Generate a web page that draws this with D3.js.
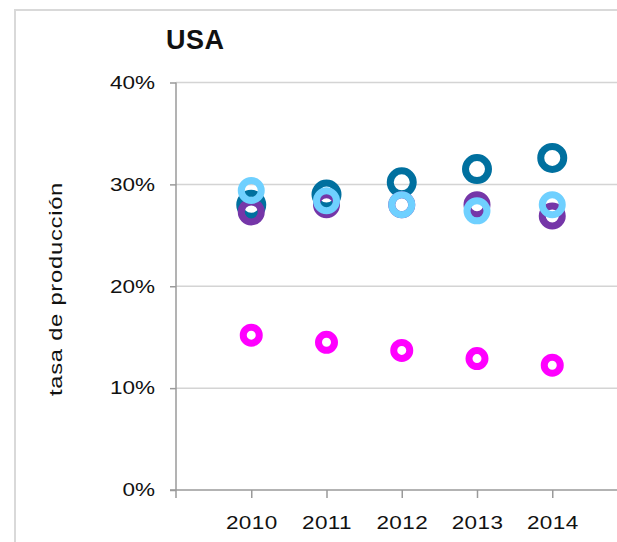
<!DOCTYPE html>
<html>
<head>
<meta charset="utf-8">
<script src="https://cdn.jsdelivr.net/npm/d3@7"></script>
<style>
  html, body { margin: 0; padding: 0; background: #fff; }
  svg { display: block; }
  text { font-family: "Liberation Sans", Arial, sans-serif; fill: #111; }
</style>
</head>
<body>
<svg id="chart" width="617" height="542"></svg>
<script>
// ---- data ----
const title = "USA";
const yAxisLabel = "tasa de producción";
const years = [2010, 2011, 2012, 2013, 2014];
const yTicks = [0, 0.1, 0.2, 0.3, 0.4];
const seriesDarkBlue  = [0.280, 0.290, 0.302, 0.315, 0.326];
const seriesPurple    = [0.273, 0.280, 0.280, 0.280, 0.269];
const seriesLightBlue = [0.294, 0.284, 0.280, 0.274, 0.280];
const seriesPink      = [0.152, 0.145, 0.137, 0.129, 0.1225];

const series = [
  { values: seriesDarkBlue,  color: "#00709f", r: 11.5, sw: 7 },
  { values: seriesPurple,    color: "#7536a8", r: 10,   sw: 7 },
  { values: seriesLightBlue, color: "#6fd0ff", r: 10,   sw: 7 },
  { values: seriesPink,      color: "#ff00ff", r: 8,    sw: 7 }
];

const SX = 1.25; // horizontal stretch of the label glyphs

const svg = d3.select("#chart");

// outer frame (cropped at right and bottom)
svg.append("path")
  .attr("d", "M15,542 L15,10 L617,10")
  .attr("fill", "none")
  .attr("stroke", "#d9d9d9")
  .attr("stroke-width", 2);

const x = d3.scaleLinear().domain([2009, 2015]).range([176, 627.5]);
const y = d3.scaleLinear().domain([0, 0.4]).range([490, 82.5]);

// gridlines
svg.append("g")
  .selectAll("line")
  .data(yTicks.filter(d => d > 0))
  .join("line")
  .attr("x1", x(2009)).attr("x2", 617)
  .attr("y1", d => y(d)).attr("y2", d => y(d))
  .attr("stroke", "#d4d4d4")
  .attr("stroke-width", 1.5);

// y axis
const yAxis = svg.append("g")
  .attr("transform", `translate(${x(2009)},0)`)
  .call(d3.axisLeft(y).tickValues(yTicks).tickSize(6).tickPadding(15)
    .tickFormat(d3.format(".0%")));
yAxis.select(".domain").attr("stroke", "#9a9a9a").attr("stroke-width", 1.5)
  .attr("d", `M0,${y(0.4)}V${y(0) + 8}`);
yAxis.selectAll(".tick line").attr("stroke", "#9a9a9a").attr("stroke-width", 1.5);
yAxis.selectAll(".tick text")
  .style("font-family", '"Liberation Sans", Arial, sans-serif')
  .style("font-size", "18px")
  .attr("fill", "#111")
  .attr("x", -21 / SX)
  .attr("transform", `scale(${SX},1)`);

// x axis
const xAxis = svg.append("g")
  .attr("transform", `translate(0,${y(0)})`)
  .call(d3.axisBottom(x).tickValues(years).tickSize(8).tickPadding(18)
    .tickFormat(d3.format("d")));
xAxis.select(".domain").attr("stroke", "#9a9a9a").attr("stroke-width", 1.5)
  .attr("d", `M${x(2009) - 6},0H617`);
xAxis.selectAll(".tick line").attr("stroke", "#9a9a9a").attr("stroke-width", 1.5);
xAxis.selectAll(".tick text")
  .style("font-family", '"Liberation Sans", Arial, sans-serif')
  .style("font-size", "18px")
  .style("letter-spacing", "0.3px")
  .attr("fill", "#111")
  .attr("transform", `scale(${SX},1)`);

// markers
series.forEach(s => {
  svg.append("g")
    .selectAll("circle")
    .data(s.values)
    .join("circle")
    .attr("cx", (d, i) => x(years[i]))
    .attr("cy", d => y(d))
    .attr("r", s.r)
    .attr("fill", "none")
    .attr("stroke", s.color)
    .attr("stroke-width", s.sw);
});

// title
svg.append("text")
  .attr("x", 166).attr("y", 48.5)
  .style("font-size", "27px")
  .style("font-weight", "bold")
  .style("letter-spacing", "0.5px")
  .text(title);

// y axis label
svg.append("text")
  .attr("transform", `translate(62,289) rotate(-90) scale(${SX},1)`)
  .attr("text-anchor", "middle")
  .style("font-size", "19px")
  .style("letter-spacing", "0.6px")
  .attr("fill", "#222")
  .text(yAxisLabel);
</script>
</body>
</html>
